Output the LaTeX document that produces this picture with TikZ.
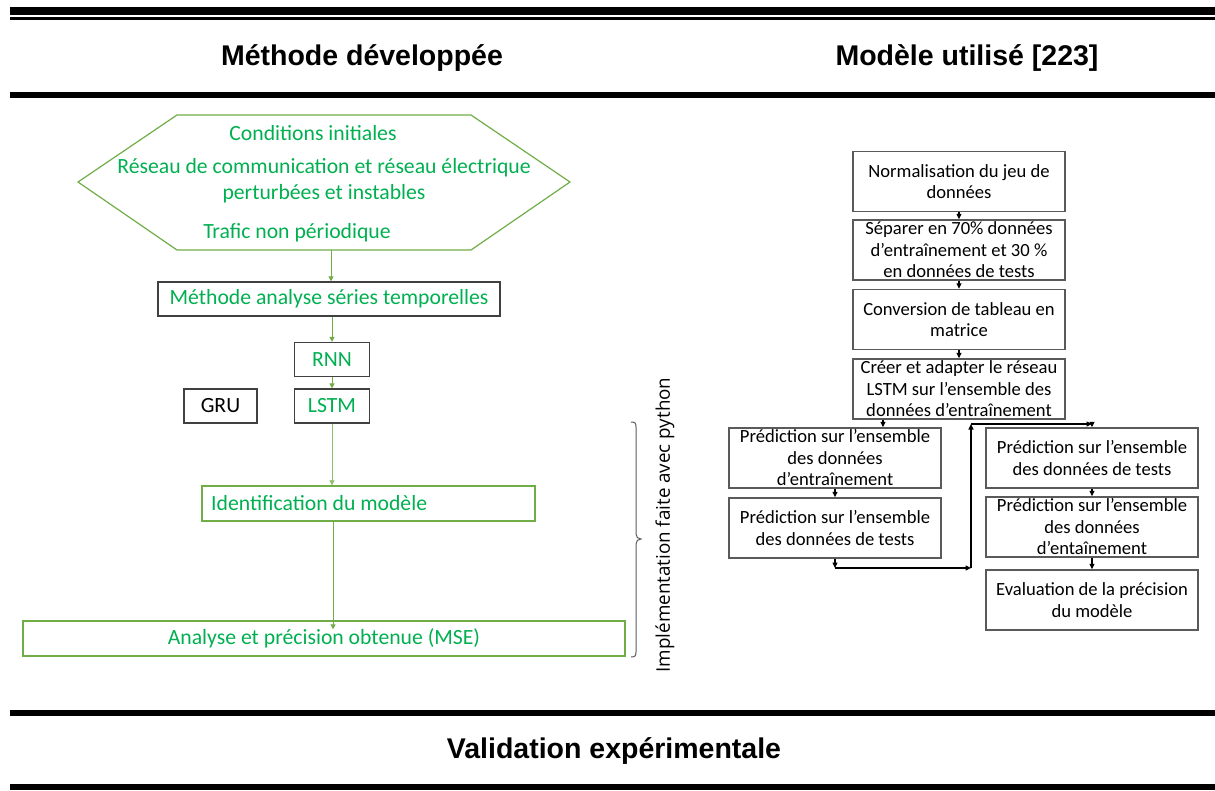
\documentclass[tikz,border=0pt]{standalone}
\usepackage{fontspec}
\setmainfont{Carlito}
\newfontfamily\hdrfont{Liberation Sans}
\newfontfamily\vfont{Open Sans}
\usetikzlibrary{arrows.meta}
\definecolor{tgreen}{RGB}{0,176,80}
\definecolor{lgreen}{RGB}{112,173,71}
\definecolor{bgray}{RGB}{64,64,64}
\definecolor{rgray}{RGB}{90,90,90}
\begin{document}
\begin{tikzpicture}[x=1pt,y=-1pt,
  rulebar/.style={fill=black},
  hdr/.style={font=\hdrfont\bfseries\fontsize{28.5}{34}\selectfont, anchor=base, inner sep=0},
  gtext/.style={text=tgreen, font=\fontsize{21.7}{26}\selectfont, align=center, inner sep=0},
  lbox/.style={draw=bgray, line width=1.3, inner sep=0, font=\fontsize{21.7}{26}\selectfont},
  gbox/.style={draw=lgreen, line width=1.3, inner sep=0, font=\fontsize{21.7}{26}\selectfont, text=tgreen},
  rbox/.style={draw=rgray, line width=1.4, inner sep=0, minimum width=212, minimum height=60,
     align=center, font=\fontsize{18.6}{21.5}\selectfont},
  garrow/.style={draw=lgreen, line width=1, -{Triangle[length=5pt,width=5pt]}},
  garrowthin/.style={draw=lgreen!80, line width=0.7, -{Triangle[length=5pt,width=5pt]}},
  conn/.style={draw=black, line width=1.1, -{Triangle[length=5.5pt,width=5pt]}}
]
\useasboundingbox (0,0) rectangle (1215,790);

% horizontal rules
\fill[rulebar] (10,7) rectangle (1215,15);
\fill[rulebar] (10,17) rectangle (1215,20);
\fill[rulebar] (10,92) rectangle (1215,98);
\fill[rulebar] (10,710) rectangle (1215,716);
\fill[rulebar] (10,784) rectangle (1215,790);

% headers
\node[hdr] (h1) at (362,65) {Méthode développée};
\node[hdr] (h2) at (967,65) {Modèle utilisé [223]};
\node[hdr] (h3) at (614,758) {Validation expérimentale};

% ---------------- left part ----------------
\draw[draw=lgreen, line width=1.2] (78,182) -- (177,115) -- (471,115) -- (570,182) -- (471,250) -- (177,250) -- cycle;
\coordinate (hexb) at (331,250);
\node[gtext] (t1) at (313,133) {Conditions initiales};
\node[gtext] (t2) at (324,181) {Réseau de communication et réseau électrique\\perturbées et instables};
\node[gtext] (t3) at (297,233) {Trafic non périodique};

\node[lbox, minimum width=342, minimum height=34, text=tgreen] (meth) at (329,299) {Méthode analyse séries temporelles};
\node[lbox, minimum width=75, minimum height=34, text=tgreen] (rnn) at (332,359.5) {RNN};
\node[lbox, minimum width=75, minimum height=34, text=tgreen] (lstm) at (332,406) {LSTM};
\node[lbox, minimum width=73, minimum height=34, text=black] (gru) at (220.5,406) {GRU};
\node[gbox, minimum width=333, minimum height=35] (ident) at (368.5,503.5) {};
\node[text=tgreen, font=\fontsize{21.7}{26}\selectfont, anchor=west, inner sep=0] (identt) at (211,503.5) {Identification du modèle};
\node[gbox, minimum width=602, minimum height=35] (ana) at (324,638.5) {Analyse et précision obtenue (MSE)};

\draw[garrow] (hexb) -- (meth.north -| hexb);
\draw[garrow] (meth.south -| rnn) -- (rnn.north);
\draw[garrow] (rnn.south) -- (lstm.north);
\draw[garrowthin] (lstm.south) -- (ident.north -| lstm);
\coordinate (ia) at (333,521);
\draw[garrow] (ident.south -| ia) -- ([yshift=-9]ana.north -| ia);

% brace and vertical label
\draw[draw=rgray, line width=1] (631,422) .. controls (635,422) and (636,423) .. (636,427) -- (636,534)
  .. controls (636,537) and (638,539) .. (641,539) .. controls (638,539) and (636,541) .. (636,544)
  -- (636,652) .. controls (636,656) and (635,657) .. (631,657);
\node[rotate=90, font=\vfont\fontsize{18.8}{22}\selectfont, inner sep=0] (impl) at (665,525) {Implémentation faite avec python};

% ---------------- right part ----------------
\node[rbox] (b1) at (959,181.5) {Normalisation du jeu de\\données};
\node[rbox] (b2) at (959,250) {Séparer en 70\% données\\d’entraînement et 30 \%\\en données de tests};
\node[rbox] (b3) at (959,319.5) {Conversion de tableau en\\matrice};
\node[rbox] (b4) at (959,389) {Créer et adapter le réseau\\LSTM sur l’ensemble des\\données d’entraînement};
\node[rbox] (b5) at (835,458) {Prédiction sur l’ensemble\\des données\\d’entraînement};
\node[rbox] (b6) at (835,528) {Prédiction sur l’ensemble\\des données de tests};
\node[rbox] (b7) at (1092,458) {Prédiction sur l’ensemble\\des données de tests};
\node[rbox] (b8) at (1092,527) {Prédiction sur l’ensemble\\des données\\d’entaînement};
\node[rbox] (b9) at (1092,600) {Evaluation de la précision\\du modèle};

\draw[conn] (b1.south) -- (b2.north);
\draw[conn] (b2.south) -- (b3.north);
\draw[conn] (b3.south) -- (b4.north);
\coordinate (x45) at (883,420);
\draw[conn] (b4.south -| x45) -- (b5.north -| x45);
\draw[conn] (b5.south) -- (b6.north);
\coordinate (c1) at (835,568);
\coordinate (c2) at (971,568);
\coordinate (c3) at (971,424);
\coordinate (c4) at (1092,424);
\draw[conn] (b6.south) -- (c1);
\draw[conn] (c1) -- (c2);
\draw[conn] (c2) -- (c3);
\draw[conn] (c3) -- (c4);
\draw[conn] (c4) -- (b7.north);
\draw[conn] (b7.south) -- (b8.north);
\draw[conn] (b8.south) -- (b9.north);
\end{tikzpicture}
\end{document}
